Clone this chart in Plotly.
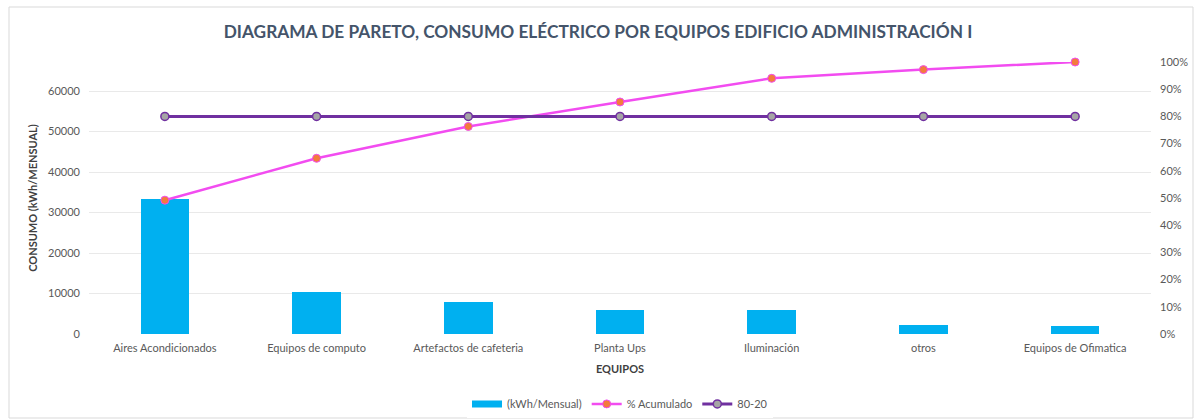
import plotly.graph_objects as go

categorias = ["Aires Acondicionados", "Equipos de computo", "Artefactos de cafeteria",
              "Planta Ups", "Iluminación", "otros", "Equipos de Ofimatica"]
consumo_kwh = [33300, 10450, 7990, 6000, 6000, 2200, 1980]
pct_acumulado = [0.492, 0.646, 0.763, 0.853, 0.940, 0.972, 1.0]
linea_80_20 = [0.8, 0.8, 0.8, 0.8, 0.8, 0.8, 0.8]

FONT = "Lato"
TXT = "#595959"
BAR_COLOR = "#00B0F0"

fig = go.Figure()
fig.add_trace(go.Bar(
    x=categorias, y=consumo_kwh, name="(kWh/Mensual)", showlegend=False,
    marker=dict(color=BAR_COLOR, line=dict(width=0)), width=0.32, yaxis="y"))
# legend-only swatch with a wide rectangle look
fig.add_trace(go.Scatter(
    x=[None], y=[None], name="(kWh/Mensual)", mode="lines",
    line=dict(color=BAR_COLOR, width=7), yaxis="y"))
fig.add_trace(go.Scatter(
    x=categorias, y=pct_acumulado, name="% Acumulado", mode="lines+markers",
    line=dict(color="#F24CF0", width=2.5), cliponaxis=False,
    marker=dict(color="#F37B3C", size=8, line=dict(color="#F24CF0", width=1)),
    yaxis="y2"))
fig.add_trace(go.Scatter(
    x=categorias, y=linea_80_20, name="80-20", mode="lines+markers",
    line=dict(color="#7030A0", width=3), cliponaxis=False,
    marker=dict(color="#A5A5A5", size=8, line=dict(color="#7030A0", width=1.5)),
    yaxis="y2"))

fig.update_layout(
    width=1196, height=420,
    margin=dict(l=89, r=45, t=62, b=86, autoexpand=False),
    paper_bgcolor="white", plot_bgcolor="white",
    font=dict(family=FONT, color=TXT, size=11),
    title=dict(text="<b>DIAGRAMA DE PARETO, CONSUMO ELÉCTRICO POR EQUIPOS EDIFICIO ADMINISTRACIÓN I</b>",
               x=0.5, xanchor="center", y=0.925, yanchor="middle", automargin=False,
               font=dict(family=FONT, size=17.3, color="#44546A")),
    xaxis=dict(showgrid=False, showline=False, ticks="", tickfont=dict(size=11, color=TXT),
               automargin=False, ticklabelstandoff=6,
               title=dict(text="<b>EQUIPOS</b>", font=dict(size=11, color="#404040"), standoff=12)),
    yaxis=dict(range=[0, 67170], tickvals=[0, 10000, 20000, 30000, 40000, 50000, 60000],
               tickformat="d", automargin=False,
               showgrid=True, gridcolor="#E9E9E9", gridwidth=1, zeroline=False,
               ticks="", ticklabelstandoff=8, tickfont=dict(size=11, color=TXT),
               title=dict(text="<b>CONSUMO (kWh/MENSUAL)</b>", font=dict(size=11, color="#404040"),
                          standoff=8)),
    yaxis2=dict(range=[0, 1.0], tickvals=[i / 10 for i in range(11)], tickformat=".0%",
                overlaying="y", side="right", showgrid=False, zeroline=False, automargin=False,
                ticks="", ticklabelstandoff=8, tickfont=dict(size=11, color=TXT)),
    legend=dict(orientation="h", x=0.5, xanchor="center", y=-0.257, yanchor="middle",
                font=dict(size=11, color=TXT), traceorder="normal"),
    bargap=0,
    shapes=[dict(type="rect", xref="paper", yref="paper",
                 x0=-80 / 1062, x1=(1193 - 89) / 1062, y0=-(418 - 334) / 272, y1=(334 - 7) / 272,
                 line=dict(color="#D9D9D9", width=1), fillcolor="rgba(0,0,0,0)", layer="below")],
)

fig.write_html("out.html", config={"displayModeBar": False},
               post_script="document.body.style.margin='0';document.body.style.overflow='hidden';")
